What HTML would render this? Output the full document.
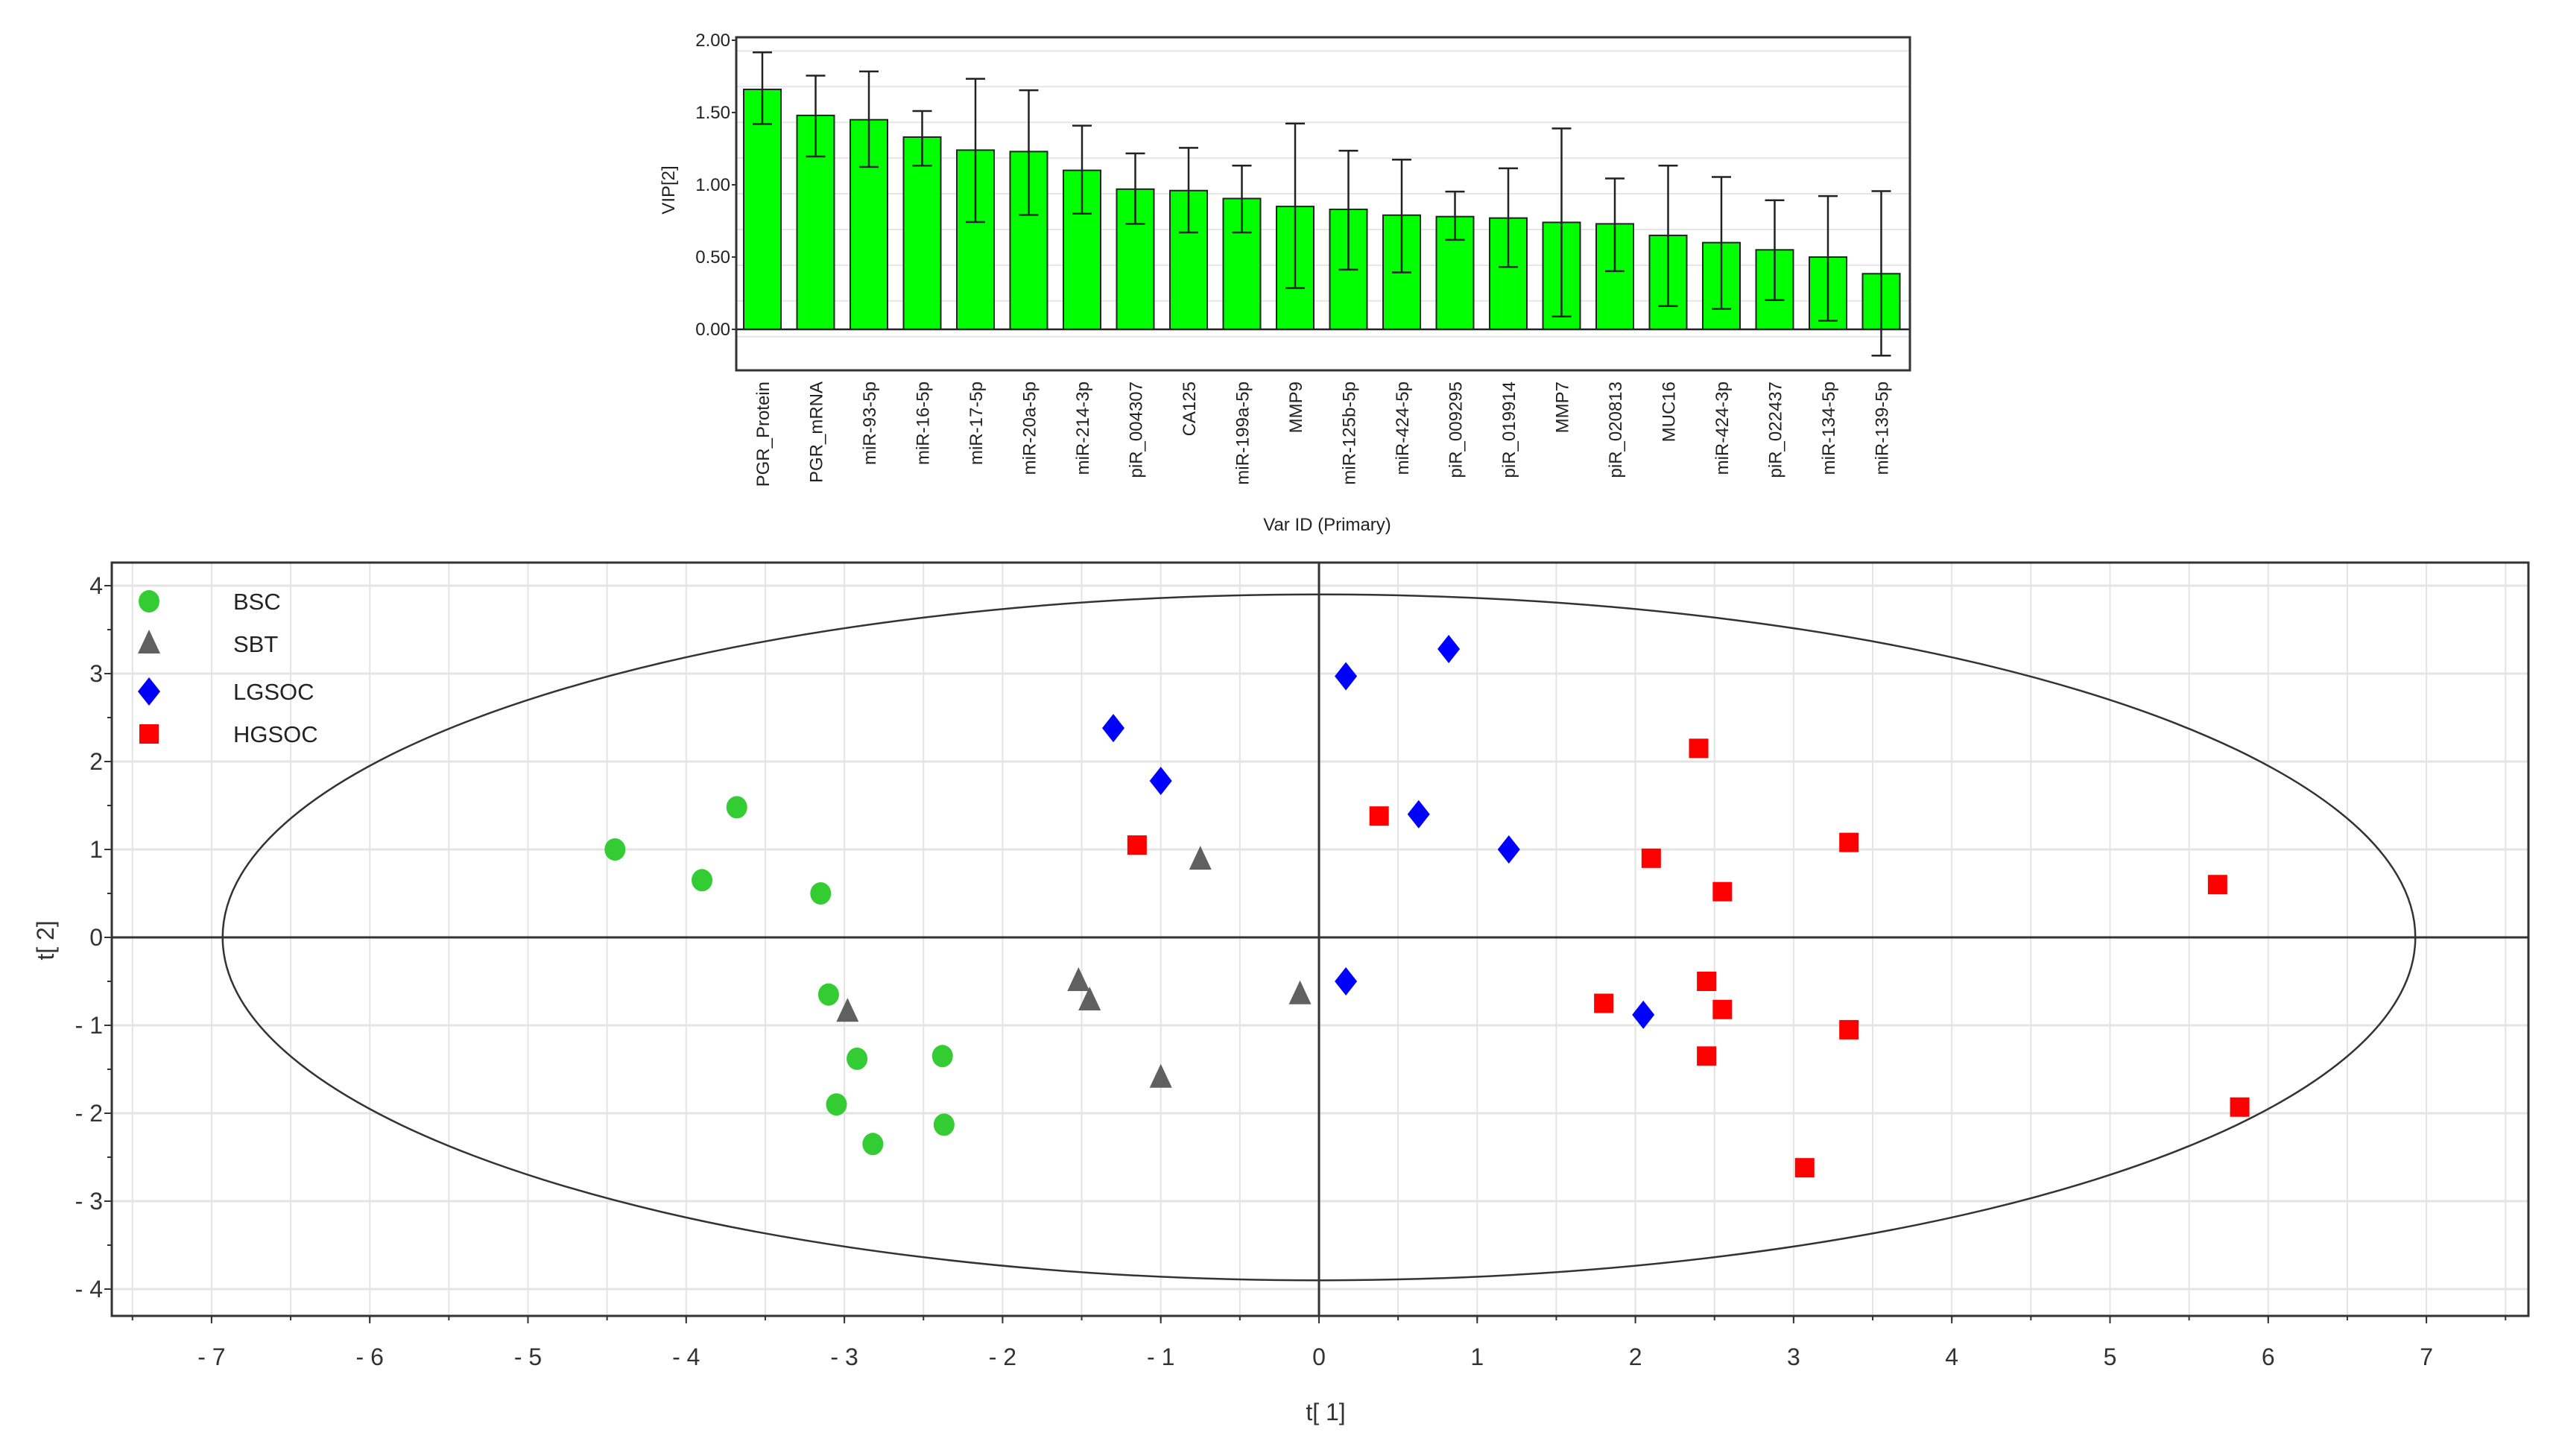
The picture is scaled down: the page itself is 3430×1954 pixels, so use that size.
<!DOCTYPE html>
<html><head><meta charset="utf-8"><style>
html,body{margin:0;padding:0;background:#fff;width:3430px;height:1954px;overflow:hidden}
svg{display:block;font-family:"Liberation Sans",sans-serif}
</style></head><body>
<svg id="chart" width="3430" height="1954" viewBox="0 0 3430 1954" xmlns="http://www.w3.org/2000/svg">
<g id="bar"></g>
<g id="sc"></g>
</svg>
<script>
const varNames=["PGR_Protein","PGR_mRNA","miR-93-5p","miR-16-5p","miR-17-5p","miR-20a-5p","miR-214-3p","piR_004307","CA125","miR-199a-5p","MMP9","miR-125b-5p","miR-424-5p","piR_009295","piR_019914","MMP7","piR_020813","MUC16","miR-424-3p","piR_022437","miR-134-5p","miR-139-5p"];
const vipValues=[1.66,1.48,1.45,1.33,1.24,1.23,1.10,0.97,0.96,0.905,0.85,0.83,0.79,0.78,0.77,0.74,0.73,0.65,0.60,0.55,0.50,0.385];
const vipUpper=[1.916,1.755,1.784,1.510,1.733,1.654,1.409,1.217,1.256,1.133,1.424,1.236,1.174,0.953,1.114,1.390,1.044,1.133,1.054,0.893,0.922,0.956];
const vipLower=[1.421,1.196,1.124,1.133,0.742,0.792,0.800,0.730,0.670,0.670,0.286,0.413,0.394,0.619,0.432,0.089,0.403,0.161,0.142,0.202,0.060,-0.182];
const vipTicks=[0,0.5,1,1.5,2];
const vipTickLabels=["0.00","0.50","1.00","1.50","2.00"];

const bscX=[-4.45,-3.9,-3.68,-3.15,-3.1,-2.92,-3.05,-2.82,-2.38,-2.37];
const bscY=[1.0,0.65,1.48,0.5,-0.65,-1.38,-1.9,-2.35,-1.35,-2.13];
const sbtX=[-0.75,-1.52,-1.45,-0.12,-2.98,-1.0];
const sbtY=[0.88,-0.5,-0.72,-0.65,-0.85,-1.6];
const lgsocX=[-1.3,-1.0,0.17,0.82,0.63,1.2,0.17,2.05];
const lgsocY=[2.38,1.78,2.97,3.28,1.4,1.0,-0.5,-0.88];
const hgsocX=[-1.15,0.38,2.4,2.1,2.55,3.35,5.68,1.8,2.45,2.55,3.35,2.45,5.82,3.07];
const hgsocY=[1.05,1.38,2.15,0.9,0.52,1.08,0.6,-0.75,-0.5,-0.82,-1.05,-1.35,-1.93,-2.62];
const xTicks=[-7,-6,-5,-4,-3,-2,-1,0,1,2,3,4,5,6,7];
const yTicks=[-4,-3,-2,-1,0,1,2,3,4];
const ellipseR=[6.93,3.9];

const NS="http://www.w3.org/2000/svg";
function mk(parent,tag,attrs,text){const e=document.createElementNS(NS,tag);for(const k in attrs)e.setAttribute(k,attrs[k]);if(text!==undefined)e.textContent=text;parent.appendChild(e);return e;}

// ---------- bar chart ----------
const B=document.getElementById('bar');
const bL=988,bR=2563,bT=50,bB=497;
const by=v=>442-v*194;
const step=71.5,bx0=1023,bw=50;
const bx=i=>bx0+i*step;
for(let g=-0.05;g<2;g+=0.247){let l=mk(B,'line',{x1:bL,x2:bR,y1:by(g),y2:by(g),stroke:'#e6e6e6','stroke-width':2});

}
varNames.forEach((n,i)=>{
  let r=mk(B,'rect',{x:bx(i)-bw/2,y:by(vipValues[i]),width:bw,height:by(0)-by(vipValues[i]),fill:'#00ff00',stroke:'#222','stroke-width':2});
  
  
  let e=mk(B,'path',{d:`M${bx(i)} ${by(vipUpper[i])}V${by(vipLower[i])}M${bx(i)-13} ${by(vipUpper[i])}h26M${bx(i)-13} ${by(vipLower[i])}h26`,stroke:'#222','stroke-width':2.5,fill:'none'});
  
  
  let t=mk(B,'text',{x:0,y:0,transform:`translate(${bx(i)+9},512) rotate(-90)`,'text-anchor':'end','font-size':24,fill:'#222'},n);
  
  
});
mk(B,'line',{x1:bL,x2:bR,y1:by(0),y2:by(0),stroke:'#222','stroke-width':2.5});
let bf=mk(B,'rect',{x:bL,y:bT,width:bR-bL,height:bB-bT,fill:'none',stroke:'#333','stroke-width':3});


vipTicks.forEach((v,i)=>{
  let t=mk(B,'text',{x:bL-8,y:by(v)+8,'text-anchor':'end','font-size':24,fill:'#222'},vipTickLabels[i]);
  
  
  mk(B,'line',{x1:bL-6,x2:bL,y1:by(v),y2:by(v),stroke:'#333','stroke-width':2});
});
let vt=mk(B,'text',{x:0,y:0,transform:'translate(905,255) rotate(-90)','text-anchor':'middle','font-size':24,fill:'#222'},'VIP[2]');


let xt=mk(B,'text',{x:1781,y:712,'text-anchor':'middle','font-size':24,fill:'#222'},'Var ID (Primary)');



// ---------- scatter ----------
const S=document.getElementById('sc');
const L=150,R=3393,T=755,Bt=1766;
const sx=v=>1770+v*212.3;
const sy=v=>1258-v*118;
for(let v=-7.5;v<=7.5;v+=0.5){let l=mk(S,'line',{x1:sx(v),x2:sx(v),y1:T,y2:Bt,stroke:'#e4e4e4','stroke-width':2});

}
yTicks.forEach(v=>{let l=mk(S,'line',{x1:L,x2:R,y1:sy(v),y2:sy(v),stroke:'#e4e4e4','stroke-width':3});

});
let el=mk(S,'ellipse',{cx:sx(0),cy:sy(0),rx:ellipseR[0]*212.3,ry:ellipseR[1]*118,fill:'none',stroke:'#333','stroke-width':2.5});


mk(S,'line',{x1:L,x2:R,y1:sy(0),y2:sy(0),stroke:'#333','stroke-width':3});
mk(S,'line',{x1:sx(0),x2:sx(0),y1:T,y2:Bt,stroke:'#333','stroke-width':3});
let sf=mk(S,'rect',{x:L,y:T,width:R-L,height:Bt-T,fill:'none',stroke:'#333','stroke-width':3});


xTicks.forEach(v=>{
  mk(S,'line',{x1:sx(v),x2:sx(v),y1:Bt,y2:Bt+10,stroke:'#333','stroke-width':2});
  let t=mk(S,'text',{x:sx(v),y:1832,'text-anchor':'middle','font-size':32,fill:'#333'},String(v).replace('-','- '));
  
  
});
for(let v=-7.5;v<=7.5;v+=0.5)mk(S,'line',{x1:sx(v),x2:sx(v),y1:Bt,y2:Bt+6,stroke:'#333','stroke-width':2});
yTicks.forEach(v=>{
  mk(S,'line',{x1:L-10,x2:L,y1:sy(v),y2:sy(v),stroke:'#333','stroke-width':2});
  if(v<4)mk(S,'line',{x1:L-6,x2:L,y1:sy(v+0.5),y2:sy(v+0.5),stroke:'#333','stroke-width':2});
  let t=mk(S,'text',{x:L-12,y:sy(v)+11,'text-anchor':'end','font-size':32,fill:'#333'},String(v).replace('-','- '));
  
  
});
let t1=mk(S,'text',{x:1779,y:1906,'text-anchor':'middle','font-size':32,fill:'#333'},'t[ 1]');


let t2=mk(S,'text',{x:0,y:0,transform:'translate(72,1262) rotate(-90)','text-anchor':'middle','font-size':32,fill:'#333'},'t[ 2]');



function marker(kind,cx,cy,name){
  let e;
  if(kind==='c')e=mk(S,'ellipse',{cx:cx,cy:cy,rx:14,ry:15,fill:'#33cc33'});
  else if(kind==='t')e=mk(S,'polygon',{points:`${cx},${cy-19} ${cx-15},${cy+13} ${cx+15},${cy+13}`,fill:'#606060'});
  else if(kind==='d')e=mk(S,'polygon',{points:`${cx},${cy-19} ${cx+15},${cy} ${cx},${cy+19} ${cx-15},${cy}`,fill:'#0000ff'});
  else e=mk(S,'rect',{x:cx-13,y:cy-13,width:26,height:26,fill:'#ff0000'});
  
  
}
bscX.forEach((v,i)=>marker('c',sx(v),sy(bscY[i]),'point-bsc'));
sbtX.forEach((v,i)=>marker('t',sx(v),sy(sbtY[i]),'point-sbt'));
lgsocX.forEach((v,i)=>marker('d',sx(v),sy(lgsocY[i]),'point-lgsoc'));
hgsocX.forEach((v,i)=>marker('s',sx(v),sy(hgsocY[i]),'point-hgsoc'));

const legendNames=["BSC","SBT","LGSOC","HGSOC"];
const legendKinds=["c","t","d","s"];
const legendY=[807,864,928,985];
legendNames.forEach((n,i)=>{
  marker(legendKinds[i],200,legendY[i],'legend-marker-'+n.toLowerCase());
  let t=mk(S,'text',{x:313,y:legendY[i]+11,'font-size':31,fill:'#222'},n);
  
  
});
</script>
</body></html>
